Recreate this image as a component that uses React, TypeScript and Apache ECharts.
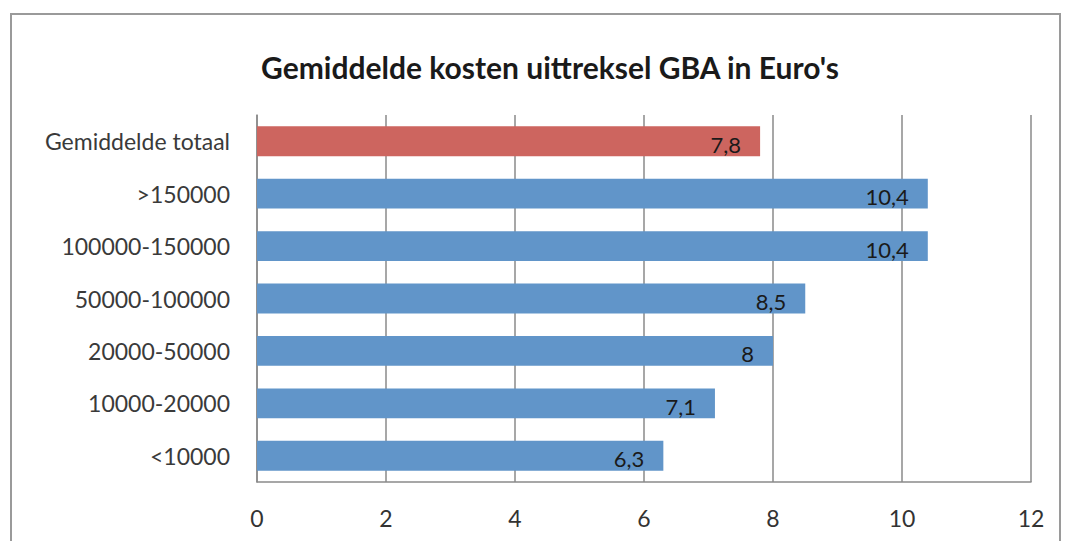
import React, { useEffect, useRef } from "react";
import * as echarts from "echarts";

const categories = [
  "Gemiddelde totaal",
  ">150000",
  "100000-150000",
  "50000-100000",
  "20000-50000",
  "10000-20000",
  "<10000",
];
const values = [7.8, 10.4, 10.4, 8.5, 8, 7.1, 6.3];
const barColors = ["#CD655F", "#6195C9", "#6195C9", "#6195C9", "#6195C9", "#6195C9", "#6195C9"];
const titleText = "Gemiddelde kosten uittreksel GBA in Euro's";
const FONT = "Lato, 'Open Sans', sans-serif";

export default function App() {
  const ref = useRef<HTMLDivElement>(null);
  useEffect(() => {
    document.body.style.margin = "0";
    const chart = echarts.init(ref.current!, null, { renderer: "svg" });
    chart.setOption({
      animation: false,
      backgroundColor: "#ffffff",
      title: {
        text: titleText,
        left: 545,
        textAlign: "center",
        top: 47,
        textStyle: { fontFamily: FONT, fontSize: 30, fontWeight: "bold", color: "#1a1a1a" },
      },
      graphic: [
        {
          type: "rect",
          shape: { x: 11, y: 14, width: 1049, height: 560 },
          style: { fill: "none", stroke: "#9a9a9a", lineWidth: 2 },
          silent: true,
        },
      ],
      grid: { left: 257, right: 34, top: 115, bottom: 59, containLabel: false },
      xAxis: {
        type: "value",
        min: 0,
        max: 12,
        interval: 2,
        axisLine: { show: true, lineStyle: { color: "#8a8a8a", width: 1.5 } },
        axisTick: { show: false },
        splitLine: { show: true, lineStyle: { color: "#8a8a8a", width: 1.5 } },
        axisLabel: { fontFamily: FONT, fontSize: 23, color: "#333333", margin: 24 },
      },
      yAxis: {
        type: "category",
        data: categories,
        inverse: true,
        axisLine: { show: true, lineStyle: { color: "#8a8a8a", width: 1.5 } },
        axisTick: { show: false },
        axisLabel: { fontFamily: FONT, fontSize: 23, color: "#3a3a3a", margin: 27 },
      },
      series: [
        {
          type: "bar",
          data: values.map((v, i) => ({ value: v, itemStyle: { color: barColors[i] } })),
          barWidth: "57%",
          label: {
            show: true,
            position: "insideRight",
            distance: 19,
            offset: [0, 3],
            fontFamily: FONT,
            fontSize: 22,
            color: "#1a1a1a",
            formatter: (p: any) => String(p.value).replace(".", ","),
          },
        },
      ],
    });
    return () => chart.dispose();
  }, []);
  return <div ref={ref} style={{ position: "absolute", left: 0, top: 0, width: 1065, height: 541 }} />;
}
